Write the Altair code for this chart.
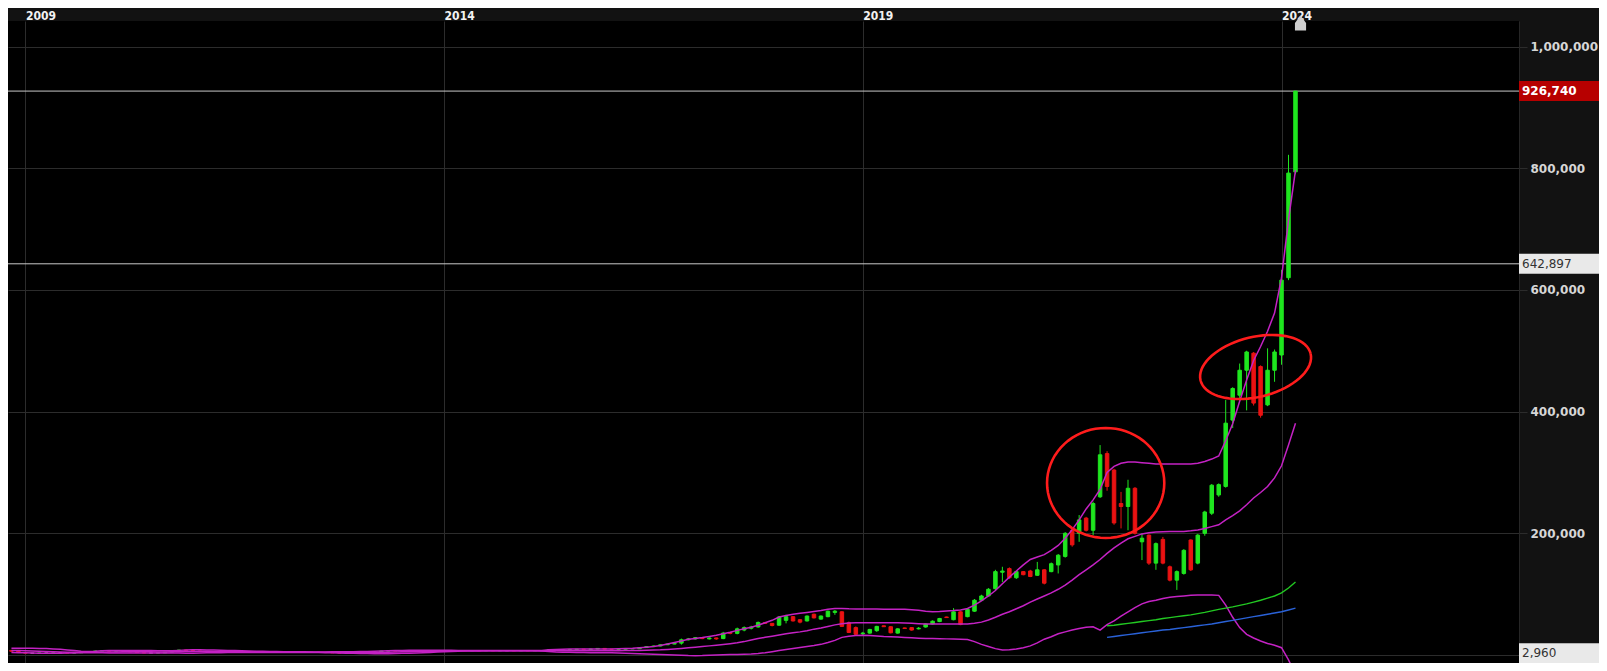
import math
import altair as alt
import pandas as pd

# ---------------- data (values in thousands) ----------------
START_YEAR, START_MONTH = 2008, 11

OPEN_K = [
    7.5, 6.2,
    4.2, 3.0, 3.0, 3.2, 3.2, 3.4, 3.4, 3.3, 3.6, 4.5, 5.5, 6.6,
    7.2, 6.4, 6.9, 6.1, 5.0, 4.0, 3.4, 3.4, 3.5, 4.6, 6.2, 8.1,
    7.4, 6.6, 5.7, 5.1, 5.0, 4.9, 4.9, 5.0, 4.6, 4.6, 4.8, 4.7,
    4.7, 4.8, 4.7, 4.7, 4.5, 4.4, 4.4, 4.2, 4.0, 3.5, 3.2, 3.0,
    3.0, 3.1, 3.5, 5.0, 6.5, 7.0, 6.6, 7.0, 6.8, 7.2, 7.0, 7.3,
    7.0, 7.2, 7.0, 7.3, 7.0, 7.2, 7.0, 7.2, 7.0, 7.1, 7.1, 7.0,
    7.2, 7.0, 7.2, 7.4, 8.6, 8.8, 8.6, 9.0, 9.5, 9.2, 9.8, 10.8,
    9.5, 9.4, 9.6, 10.2, 10.3, 12.2, 13.8, 14.8, 16.8, 18.0, 19.5, 25.0,
    26.5, 28.5, 26.5, 28.0, 27.0, 37.0, 35.5, 41.0, 44.0, 46.0, 53.5, 52.0,
    49.0, 57.0, 63.0, 58.0, 56.0, 67.0, 59.0, 63.0, 70.0, 71.0, 53.0, 45.0,
    35.0, 36.0, 40.0, 48.0, 46.5, 36.0, 44.5, 45.0, 43.0, 46.0, 51.0, 55.0,
    62.5, 58.0, 71.0, 63.0, 72.0, 90.0, 97.0, 109.0, 136.0, 142.0, 127.0, 137.0,
    138, 131, 140, 137, 148, 162, 205, 200, 225, 205, 260, 331,
    304, 249, 244, 274, 186, 197, 151, 190, 145, 123, 134, 189,
    151, 200, 233, 263, 277, 386, 427, 468, 496, 474, 411, 468,
    493, 620, 794,
]
CLOSE_K = [
    6.2, 4.2,
    3.0, 3.0, 3.2, 3.2, 3.4, 3.4, 3.3, 3.6, 4.5, 5.5, 6.6, 7.2,
    6.4, 6.9, 6.1, 5.0, 4.0, 3.4, 3.4, 3.5, 4.6, 6.2, 8.1, 7.4,
    6.6, 5.7, 5.1, 5.0, 4.9, 4.9, 5.0, 4.6, 4.6, 4.8, 4.7, 4.7,
    4.8, 4.7, 4.7, 4.5, 4.4, 4.4, 4.2, 4.0, 3.5, 3.2, 3.0, 3.0,
    3.1, 3.5, 5.0, 6.5, 7.0, 6.6, 7.0, 6.8, 7.2, 7.0, 7.3, 7.0,
    7.2, 7.0, 7.3, 7.0, 7.2, 7.0, 7.2, 7.0, 7.1, 7.1, 7.0, 7.2,
    7.0, 7.2, 7.4, 8.6, 8.8, 8.6, 9.0, 9.5, 9.2, 9.8, 10.8, 9.5,
    9.4, 9.6, 10.2, 10.3, 12.2, 13.8, 14.8, 16.8, 18.0, 19.2, 25.0, 26.5,
    28.5, 27.0, 28.0, 26.5, 36.0, 35.5, 43.0, 45.0, 46.0, 53.5, 52.0, 48.5,
    62.5, 63.0, 56.0, 54.0, 64.0, 61.0, 64.0, 72.0, 72.0, 47.0, 37.0, 34.0,
    36.0, 42.0, 47.0, 46.5, 36.5, 43.0, 43.5, 41.0, 44.0, 51.0, 55.5, 60.0,
    61.5, 71.0, 50.0, 75.0, 90.0, 97.0, 108.0, 137.0, 138.0, 127.0, 137.0, 132.0,
    129, 140, 118, 150, 164, 200, 181, 222, 205, 249, 329, 277,
    217, 244, 274, 200, 192, 151, 183, 151, 123, 137, 172, 140,
    197, 235, 279, 280, 381, 438, 468, 498, 414, 394, 468, 498,
    616, 792, 926.74,
]
HIGH_K = [
    8.0, 6.5,
    4.4, 3.3, 3.4, 3.5, 3.6, 3.6, 3.6, 3.8, 4.7, 5.8, 6.9, 7.6,
    7.5, 7.2, 7.1, 6.3, 5.2, 4.2, 3.6, 3.7, 4.8, 6.5, 8.4, 8.3,
    7.6, 6.8, 5.9, 5.3, 5.2, 5.1, 5.2, 5.1, 4.8, 5.0, 4.9, 4.9,
    5.0, 4.9, 4.9, 4.8, 4.6, 4.6, 4.5, 4.3, 4.1, 3.6, 3.3, 3.2,
    3.3, 3.7, 5.2, 6.8, 7.3, 7.2, 7.2, 7.1, 7.4, 7.3, 7.5, 7.4,
    7.4, 7.3, 7.5, 7.4, 7.4, 7.3, 7.4, 7.3, 7.3, 7.3, 7.2, 7.4,
    7.3, 7.4, 7.6, 8.9, 9.1, 9.0, 9.2, 9.8, 9.7, 10.1, 11.3, 11.0,
    9.8, 9.9, 10.5, 10.7, 12.6, 14.2, 15.3, 17.3, 18.5, 19.8, 27.0, 28.0,
    29.5, 29.0, 29.0, 28.5, 38.0, 38.0, 45.0, 47.0, 48.0, 55.0, 54.0, 52.5,
    64.0, 66.0, 64.0, 59.0, 65.0, 68.0, 65.0, 73.0, 74.0, 72.0, 55.0, 47.0,
    38.0, 43.0, 48.0, 48.5, 47.0, 44.0, 45.0, 45.5, 46.0, 52.0, 57.0, 61.0,
    63.0, 77.0, 72.0, 76.0, 92.0, 99.0, 110.0, 140.0, 145.0, 144.0, 138.0, 138.0,
    140, 153, 141, 152, 166, 202, 207, 230, 227, 252, 345, 335,
    306, 268, 288, 276, 200, 198, 185, 194, 147, 139, 174, 190,
    199, 237, 281, 282, 419, 440, 479, 500, 498, 476, 504, 502,
    633, 822, 926.74,
]
LOW_K = [
    6.0, 4.0,
    2.97, 2.96, 2.98, 3.0, 3.1, 3.2, 3.1, 3.2, 3.5, 4.4, 5.3, 6.4,
    6.2, 6.2, 5.9, 4.8, 3.8, 3.2, 3.2, 3.3, 3.4, 4.4, 6.0, 7.1,
    6.4, 5.5, 5.0, 4.8, 4.7, 4.7, 4.8, 4.5, 4.4, 4.5, 4.6, 4.5,
    4.6, 4.6, 4.5, 4.4, 4.3, 4.3, 4.1, 3.9, 3.4, 3.1, 2.96, 2.96,
    2.96, 3.0, 3.4, 4.8, 6.3, 6.5, 6.5, 6.7, 6.7, 6.9, 6.9, 6.9,
    6.9, 6.9, 6.9, 6.9, 6.9, 6.9, 6.9, 6.9, 6.9, 7.0, 6.9, 6.9,
    6.9, 6.9, 7.1, 7.3, 8.4, 8.4, 8.5, 8.8, 9.0, 9.0, 9.6, 9.3,
    9.2, 9.2, 9.4, 10.0, 10.1, 12.0, 13.5, 14.5, 16.5, 17.8, 17.0, 24.0,
    25.5, 26.0, 25.5, 25.0, 26.0, 34.0, 34.0, 39.0, 42.0, 45.0, 51.0, 47.0,
    48.0, 52.0, 55.0, 52.0, 55.0, 60.0, 58.0, 62.0, 66.0, 46.0, 36.0, 33.0,
    33.0, 35.0, 38.0, 46.0, 35.5, 35.0, 43.0, 40.0, 42.0, 45.0, 50.0, 54.0,
    61.0, 57.0, 49.0, 62.0, 71.0, 89.0, 96.0, 107.0, 120.0, 125.0, 125.0, 131.0,
    128, 130, 116, 136, 134, 160, 178, 186, 203, 197, 258, 270,
    214, 208, 205, 198, 156, 148, 140, 149, 121, 107, 132, 138,
    149, 196, 230, 260, 275, 373, 420, 402, 410, 390, 409, 449,
    477, 616, 790,
]

# Bollinger band lines (upper / middle / lower), thousands
UPPER_K = [
    11.0, 11.0,
    11.0, 11.0, 10.8, 10.5, 10.0, 9.3, 8.4, 7.2, 6.2, 5.9, 6.2, 6.8,
    7.3, 7.5, 7.6, 7.6, 7.5, 7.3, 7.2, 7.1, 7.0, 7.0, 7.6, 8.2,
    8.5, 8.5, 8.3, 8.1, 7.8, 7.5, 7.2, 6.9, 6.6, 6.3, 6.1, 5.9,
    5.7, 5.5, 5.4, 5.3, 5.2, 5.1, 5.1, 5.1, 5.2, 5.3, 5.4, 5.5,
    5.6, 5.7, 6.0, 6.5, 7.0, 7.3, 7.5, 7.7, 7.8, 7.9, 7.9, 7.9,
    7.8, 7.7, 7.6, 7.5, 7.5, 7.4, 7.4, 7.4, 7.4, 7.3, 7.3, 7.3,
    7.3, 7.3, 7.4, 8.5, 9.2, 9.5, 9.7, 9.9, 10.0, 10.0, 9.9, 9.9,
    10.0, 10.3, 10.7, 11.0, 11.8, 12.8, 14.0, 15.5, 18.0, 20.5, 23.0, 25.8,
    27.2, 28.6, 30.5, 32.5, 34.8, 37.5, 40.5, 43.0, 45.5, 49.0, 53.0, 57.0,
    62.5, 65.0, 67.0, 68.5, 70.0, 71.5, 73.0, 75.0, 76.5, 76.5, 76.0, 75.8,
    75.5, 75.5, 75.5, 75.3, 75.2, 75.0, 75.0, 74.5, 73.5, 72.0, 71.0, 71.5,
    72.5, 73.0, 74.0, 76.5, 82.0, 89.0, 97.0, 106.0, 117.0, 128.0, 138.0, 148.0,
    157, 161, 165, 172, 180, 192, 206, 222, 240, 255, 272, 300,
    310, 315, 317, 317, 316, 315, 314, 314, 314, 314, 314, 314,
    315, 318, 322, 327, 352, 380, 417, 452, 484, 507, 532, 562,
    620, 715, 797,
]
MID_K = [
    7.5, 7.3,
    7.0, 6.6, 6.2, 5.8, 5.4, 5.0, 4.7, 4.5, 4.4, 4.4, 4.5, 4.7,
    4.9, 5.1, 5.3, 5.4, 5.4, 5.3, 5.2, 5.1, 5.1, 5.2, 5.4, 5.7,
    5.9, 6.0, 6.0, 5.9, 5.8, 5.6, 5.5, 5.3, 5.2, 5.1, 5.0, 4.9,
    4.8, 4.8, 4.7, 4.7, 4.7, 4.6, 4.6, 4.5, 4.4, 4.3, 4.2, 4.1,
    4.0, 4.0, 4.1, 4.3, 4.6, 4.9, 5.2, 5.4, 5.7, 5.9, 6.1, 6.3,
    6.5, 6.7, 6.9, 7.0, 7.0, 7.0, 7.1, 7.1, 7.1, 7.1, 7.1, 7.1,
    6.9, 6.9, 6.9, 6.9, 6.9, 6.8, 6.8, 6.8, 6.8, 6.8, 6.8, 6.8,
    6.8, 7.0, 7.2, 7.4, 7.6, 7.9, 8.1, 8.5, 9.2, 10.0, 10.8, 11.8,
    12.8, 13.8, 15.0, 16.0, 17.2, 18.5, 20.0, 22.0, 24.7, 27.0, 29.0, 31.0,
    33.0, 35.0, 36.5, 38.0, 40.0, 42.5, 44.5, 47.0, 49.5, 51.5, 52.5, 53.0,
    53.0, 53.0, 53.0, 53.0, 53.0, 53.0, 52.5, 52.0, 51.5, 51.0, 51.0, 51.0,
    51.0, 51.0, 51.0, 51.0, 52.0, 54.0, 57.5, 62.0, 67.0, 71.0, 76.0, 81.0,
    87, 92, 97, 102, 108, 115, 123, 132, 140, 148, 157, 167,
    176, 184, 191, 195, 199, 201, 202, 202.5, 203, 203, 203, 204,
    205.5, 208, 211, 214, 222, 229, 237, 247, 258, 267, 277, 291,
    311, 345, 381,
]
LOWER_K = [
    4.0, 3.8,
    3.5, 3.2, 3.0, 2.9, 2.9, 3.0, 3.1, 3.3, 3.5, 3.6, 3.6, 3.5,
    3.4, 3.3, 3.2, 3.2, 3.3, 3.4, 3.4, 3.3, 3.2, 3.2, 3.1, 3.0,
    3.0, 3.2, 3.5, 3.7, 3.9, 4.0, 4.0, 4.0, 4.1, 4.2, 4.2, 4.2,
    4.2, 4.2, 4.2, 4.2, 4.1, 4.1, 4.0, 3.9, 3.6, 3.3, 3.0, 2.9,
    2.6, 2.4, 2.2, 2.1, 2.2, 2.4, 2.7, 3.0, 3.4, 3.8, 4.3, 4.8,
    5.3, 5.8, 6.2, 6.5, 6.6, 6.7, 6.8, 6.8, 6.8, 6.8, 6.9, 6.9,
    6.9, 6.8, 6.6, 5.6, 5.0, 4.7, 4.4, 4.2, 4.0, 3.9, 3.8, 3.7,
    3.5, 3.2, 2.9, 2.6, 2.2, 1.8, 1.4, 1.0, 0.5, 0.0, -0.5, -1.0,
    -1.1, -1.0, -0.5, 0.0, 0.5, 0.8, 1.0, 1.3, 1.6, 2.5, 3.8, 5.5,
    7.3, 9.0, 10.8, 12.5, 14.0, 15.5, 17.5, 20.5, 24.0, 29.0, 31.0, 32.0,
    32.4, 32.0, 31.3, 30.5, 30.0, 29.5, 28.8, 28.2, 27.7, 27.3, 27.0, 26.7,
    26.5, 26.2, 26.0, 25.5, 22.0, 17.5, 14.0, 10.5, 8.2, 8.5, 10.0, 12.0,
    15, 20, 26, 30, 35, 38, 41, 43.5, 45.5, 46.5, 41, 50,
    56, 64, 71, 78, 84, 88, 90, 93, 95, 96, 97, 98,
    98.6, 98.6, 98.6, 98, 82, 62, 45, 34, 28, 23, 19, 16,
    12, -8, -32,
]

# Two moving averages that start in Dec 2021
MA_START = (2021, 12)
GREEN_MA_K = [48, 49, 50.5, 52, 53.5, 55, 56.5, 58, 60, 61.5, 63, 64.5, 66,
              68, 70, 72.5, 75, 77, 79, 81.5, 84, 87, 90, 93.5, 97,
              102, 110, 120]
BLUE_MA_K = [29, 30.5, 32, 33.5, 35, 36.5, 38, 39.5, 41, 42, 43.5, 45, 46.5,
             48, 49.5, 51, 53, 55, 57, 59, 61, 63, 65, 67, 69,
             71, 74, 77]

X_TICKS = [2009, 2014, 2019, 2024]
Y_TICKS = [0, 200000, 400000, 600000, 800000, 1000000]
LAST_PRICE = 926740
REF_LEVEL = 642897
LOW_PRICE = 2960

# hand-drawn red ellipses (centre year, centre value, half-width in years, half-height in value, tilt deg)
ELLIPSES = [
    dict(cx=2021.90, cy=282700, rx=0.70, ry=90400, tilt=0.0),
    dict(cx=2023.69, cy=473300, rx=0.676, ry=49300, tilt=13.5),
]

n = len(CLOSE_K)
assert len(OPEN_K) == n and len(HIGH_K) == n and len(LOW_K) == n
assert len(UPPER_K) == n and len(MID_K) == n and len(LOWER_K) == n

t = []
yy, mm = START_YEAR, START_MONTH
for _ in range(n):
    t.append(yy + (mm - 1) / 12)
    mm += 1
    if mm > 12:
        mm = 1
        yy += 1


def direction(o, c):
    if c > o:
        return "up"
    if c < o:
        return "down"
    return "flat"


candles = pd.DataFrame({
    "t": t,
    "open": [v * 1000 for v in OPEN_K],
    "close": [v * 1000 for v in CLOSE_K],
    "high": [v * 1000 for v in HIGH_K],
    "low": [v * 1000 for v in LOW_K],
    "dir": [direction(o, c) for o, c in zip(OPEN_K, CLOSE_K)],
})

bands = pd.DataFrame({
    "t": t * 3,
    "v": [v * 1000 for v in UPPER_K + MID_K + LOWER_K],
    "series": ["upper"] * n + ["mid"] * n + ["lower"] * n,
})

ma_idx = (MA_START[0] - START_YEAR) * 12 + (MA_START[1] - START_MONTH)
ma_t = t[ma_idx:ma_idx + len(GREEN_MA_K)]
green_df = pd.DataFrame({"t": ma_t, "v": [v * 1000 for v in GREEN_MA_K]})
blue_df = pd.DataFrame({"t": ma_t, "v": [v * 1000 for v in BLUE_MA_K]})

# --------------- layout ---------------
W, H = 1511, 642
RIGHT_PANEL = 80
TOP_BAND = 13
X_DOMAIN = [2008.852, 2026.776]
Y_DOMAIN = [-13147, 1041916]
PX_PER_YEAR = W / (X_DOMAIN[1] - X_DOMAIN[0])
VAL_PER_PX = (Y_DOMAIN[1] - Y_DOMAIN[0]) / H

ell_rows = []
for k, e in enumerate(ELLIPSES):
    a = e["rx"] * PX_PER_YEAR
    b = e["ry"] / VAL_PER_PX
    th = math.radians(e["tilt"])
    for i in range(0, 73):
        ang = 2 * math.pi * i / 72
        u, w = a * math.cos(ang), b * math.sin(ang)
        du = u * math.cos(th) - w * math.sin(th)
        dv = u * math.sin(th) + w * math.cos(th)
        ell_rows.append({"k": k, "i": i, "t": e["cx"] + du / PX_PER_YEAR, "v": e["cy"] + dv * VAL_PER_PX})
ell_df = pd.DataFrame(ell_rows)


def badge_df(value):
    return pd.DataFrame({"v": [value], "label": [f"{value:,}"],
                         "top": [value + 10 * VAL_PER_PX], "bot": [value - 10 * VAL_PER_PX]})


xs = alt.Scale(domain=X_DOMAIN, nice=False, zero=False)
ys = alt.Scale(domain=Y_DOMAIN, nice=False, zero=False)
dir_scale = alt.Scale(domain=["up", "down", "flat"], range=["#1fe61f", "#ea1212", "#9a9a9a"])

x_axis = alt.Axis(orient="top", values=X_TICKS, format="d", grid=True, gridColor="#2c2c2c",
                  ticks=False, domain=False, labelColor="#f2f2f2", labelFont="DejaVu Sans Condensed",
                  labelFontSize=12, labelFontWeight="bold", labelAlign="left", labelBaseline="alphabetic",
                  labelPadding=2, labelFlush=False, labelOverlap=False, title=None)
y_axis = alt.Axis(orient="right", values=Y_TICKS, grid=True, gridColor="#2c2c2c", ticks=True,
                  tickColor="#2c2c2c", tickSize=8, domain=True, domainColor="#262626",
                  labelExpr="datum.value == 0 ? '' : format(datum.value, ',')",
                  labelColor="#d6d6d6", labelFont="DejaVu Sans", labelFontSize=12, labelFontWeight="bold",
                  labelPadding=3, labelAlign="left", labelBaseline="middle", labelOverlap=False, title=None)


def X(field):
    return alt.X(field, scale=xs, axis=x_axis)


def Y(field):
    return alt.Y(field, scale=ys, axis=y_axis)


wicks = alt.Chart(candles).mark_rule(strokeWidth=1, clip=True).encode(
    x=X("t:Q"), y=Y("low:Q"), y2="high:Q",
    color=alt.Color("dir:N", scale=dir_scale, legend=None),
)
bodies = alt.Chart(candles).mark_bar(size=3.5, strokeWidth=1, clip=True).encode(
    x=X("t:Q"), y=Y("open:Q"), y2="close:Q",
    color=alt.Color("dir:N", scale=dir_scale, legend=None),
    stroke=alt.Stroke("dir:N", scale=dir_scale, legend=None),
)

hlines = alt.Chart(pd.DataFrame({"v": [LAST_PRICE, REF_LEVEL]})).mark_rule(
    color="#c9c9c9", strokeWidth=1).encode(y=Y("v:Q"))

band_lines = alt.Chart(bands).mark_line(color="#c422c4", strokeWidth=1.5, clip=True).encode(
    x=X("t:Q"), y=Y("v:Q"), detail="series:N")
green_line = alt.Chart(green_df).mark_line(color="#22c922", strokeWidth=1.4, clip=True).encode(
    x=X("t:Q"), y=Y("v:Q"))
blue_line = alt.Chart(blue_df).mark_line(color="#2a62d8", strokeWidth=1.4, clip=True).encode(
    x=X("t:Q"), y=Y("v:Q"))

ellipses = alt.Chart(ell_df).mark_line(color="#ff1c1c", strokeWidth=2.6).encode(
    x=X("t:Q"), y=Y("v:Q"), detail="k:N", order="i:Q")

layers = [wicks, hlines, bodies, band_lines, green_line, blue_line, ellipses]
for value, fill, txt, weight in [(LAST_PRICE, "#b70000", "#ffffff", "bold"),
                                 (REF_LEVEL, "#e9e9e9", "#333333", "normal"),
                                 (LOW_PRICE, "#e9e9e9", "#333333", "normal")]:
    bdf = badge_df(value)
    layers.append(alt.Chart(bdf).mark_rect(color=fill).encode(
        x=alt.value(W), x2=alt.value(W + RIGHT_PANEL), y=Y("top:Q"), y2="bot:Q"))
    layers.append(alt.Chart(bdf).mark_text(
        align="left", baseline="middle", dx=3, font="DejaVu Sans", fontSize=12, fontWeight=weight,
        color=txt).encode(x=alt.value(W), y=Y("v:Q"), text="label:N"))

# "current bar" marker just right of the last candle, in the top band
marker = alt.Chart(pd.DataFrame({"t": [t[-1] + 0.06], "v": [1038600]})).mark_point(
    shape="M-0.75,1 L-0.75,0 L0,-1 L0.75,0 L0.75,1 Z", filled=True, size=220,
    color="#cfcfcf", opacity=1).encode(x=X("t:Q"), y=Y("v:Q"))
layers.append(marker)

chart = alt.layer(*layers).properties(
    width=W, height=H,
    autosize=alt.AutoSizeParams(type="none"),
    padding={"left": 0, "top": TOP_BAND, "right": RIGHT_PANEL, "bottom": 0},
).configure(background="#121212").configure_view(fill="#000000", stroke=None)

chart.save("out.html", embed_options={"renderer": "svg", "actions": False})
